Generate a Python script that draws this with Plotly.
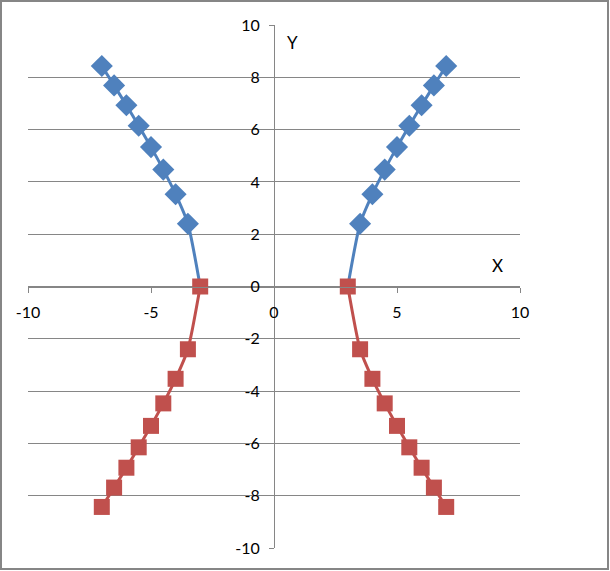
import plotly.graph_objects as go

# Data
x_left = [-7, -6.5, -6, -5.5, -5, -4.5, -4, -3.5, -3]
x_right = [7, 6.5, 6, 5.5, 5, 4.5, 4, 3.5, 3]
y_upper = [8.43, 7.69, 6.93, 6.15, 5.33, 4.47, 3.53, 2.40, 0]
y_lower = [-8.43, -7.69, -6.93, -6.15, -5.33, -4.47, -3.53, -2.40, 0]
tick_vals_x = [-10, -5, 0, 5, 10]
tick_text_x = ["-10", "-5", "0", "5", "10"]
tick_vals_y = [-10, -8, -6, -4, -2, 0, 2, 4, 6, 8, 10]
tick_text_y = ["-10", "-8", "-6", "-4", "-2", "0", "2", "4", "6", "8", "10"]

BLUE = "#4F81BD"
RED = "#C0504D"
GRID = "#868686"
FONT = "Lato, 'Open Sans', sans-serif"

W, H = 610, 571
L, R, T, B = 28, 90, 25, 23

fig = go.Figure()
for xs in (x_left, x_right):
    # line through all points incl. the vertex
    fig.add_trace(go.Scatter(
        x=xs, y=y_upper, mode="lines",
        line=dict(color=BLUE, width=3, shape="spline", smoothing=0.6),
        showlegend=False, hoverinfo="skip"))
    fig.add_trace(go.Scatter(
        x=xs[:-1], y=y_upper[:-1], mode="markers",
        marker=dict(symbol="diamond", size=17, color=BLUE, opacity=1,
                    line=dict(width=0)),
        showlegend=False, hoverinfo="skip"))
for xs in (x_left, x_right):
    fig.add_trace(go.Scatter(
        x=xs, y=y_lower, mode="lines+markers",
        line=dict(color=RED, width=3, shape="spline", smoothing=0.6),
        marker=dict(symbol="square", size=16, color=RED, line=dict(width=0)),
        showlegend=False, hoverinfo="skip"))

pw = W - L - R
ph = H - T - B
fig.add_shape(type="rect", xref="paper", yref="paper",
              x0=(1 - L) / pw, x1=1 + (R - 2) / pw,
              y0=-(B - 2) / ph, y1=1 + (T - 1) / ph,
              line=dict(color=GRID, width=2), layer="below")

fig.add_annotation(x=9.1, y=0.8, xref="x", yref="y", text="X", showarrow=False,
                   font=dict(family=FONT, size=17, color="black"))
fig.add_annotation(x=0.75, y=9.35, xref="x", yref="y", text="Y", showarrow=False,
                   font=dict(family=FONT, size=17, color="black"))

fig.update_layout(
    width=W, height=H,
    margin=dict(l=L, r=R, t=T, b=B, autoexpand=False),
    paper_bgcolor="white", plot_bgcolor="white",
    font=dict(family=FONT, size=16, color="black"),
    xaxis=dict(range=[-10, 10], tickvals=tick_vals_x, ticktext=tick_text_x,
               showgrid=False, zeroline=False, automargin=False,
               showline=True, linecolor=GRID, linewidth=1,
               anchor="free", position=0.5, ticks="outside", ticklen=5, tickcolor=GRID,
               ticklabelstandoff=6),
    yaxis=dict(range=[-10, 10], tickvals=tick_vals_y, ticktext=tick_text_y,
               showgrid=True, gridcolor=GRID, automargin=False,
               gridwidth=1, zeroline=False, showline=True, linecolor=GRID, linewidth=1,
               anchor="free", position=0.5, ticks="outside", ticklen=5, tickcolor=GRID,
               ticklabelstandoff=6),
)

fig.write_html("out.html", config={"displayModeBar": False},
               post_script="document.body.style.margin='0';document.body.style.overflow='hidden';")
